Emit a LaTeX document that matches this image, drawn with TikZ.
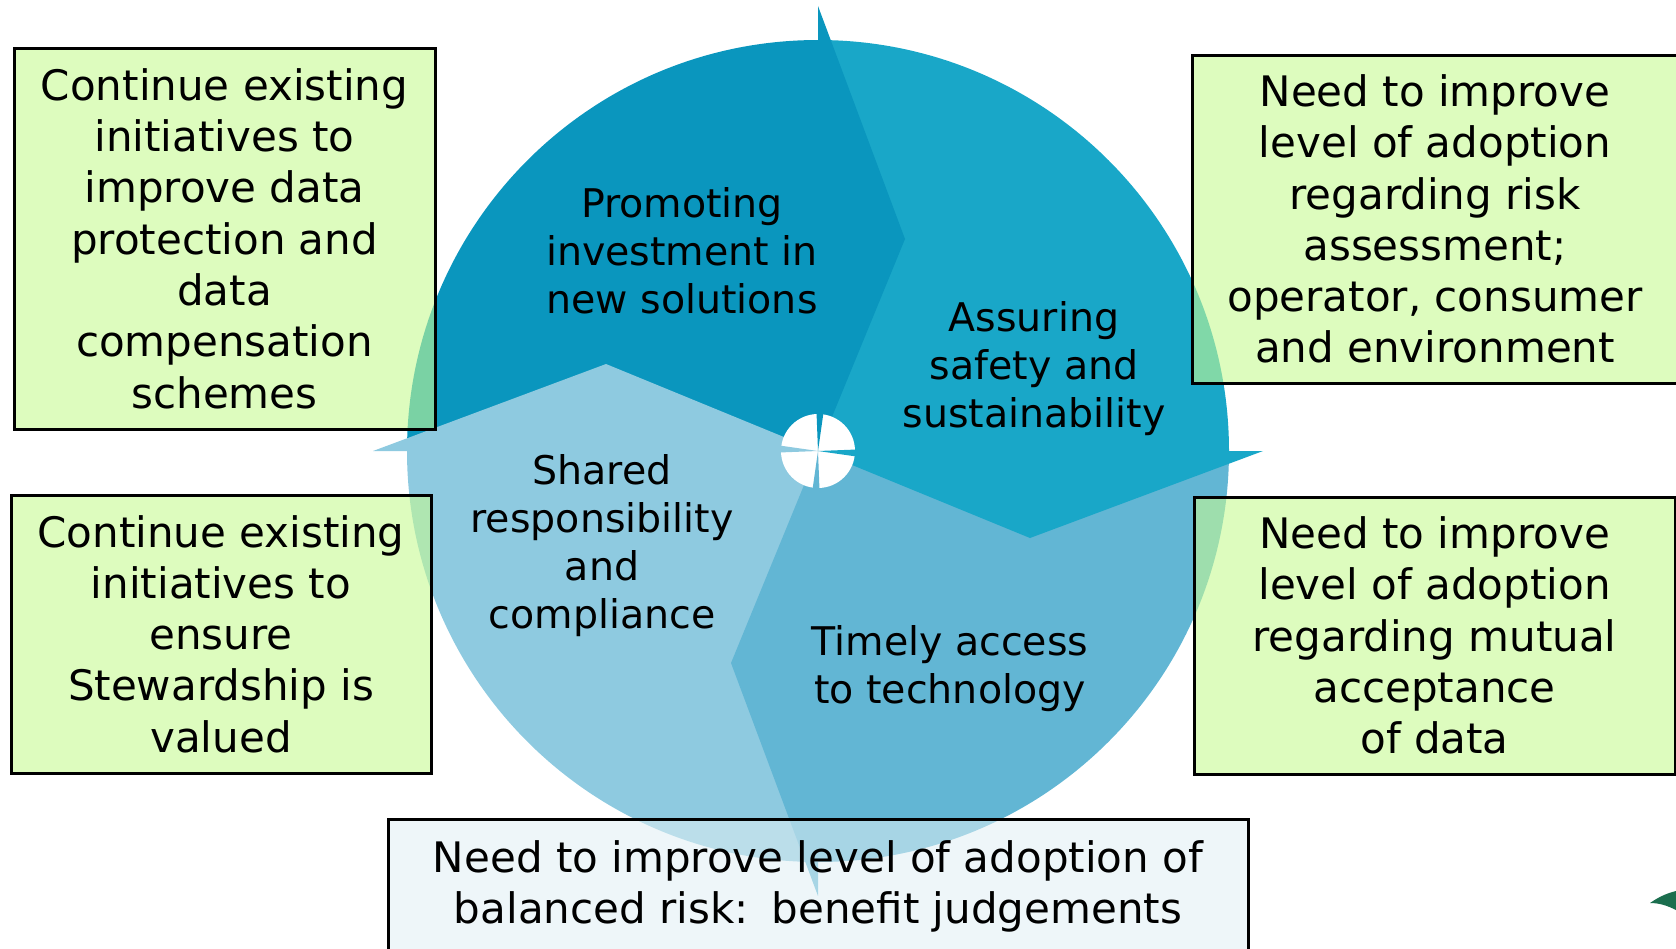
\documentclass[tikz,border=0pt]{standalone}
\usepackage{fontspec}
\setmainfont{DejaVu Sans}
\definecolor{secA}{HTML}{0A96BE}
\definecolor{secB}{HTML}{19A7C8}
\definecolor{secC}{HTML}{62B6D4}
\definecolor{secD}{HTML}{8ECAE0}
\definecolor{boxgreen}{HTML}{C6FA93}
\definecolor{boxpale}{HTML}{E0EFF4}
\definecolor{logogreen}{HTML}{1B6E4E}
\newcommand{\boxfont}{\fontsize{42}{51.3}\selectfont}
\newcommand{\circfont}{\fontsize{39.5}{48}\selectfont}
\tikzset{
  gbox/.style={draw=black, line width=3pt, fill=boxgreen, fill opacity=0.6, text opacity=1,
    align=center, inner sep=0pt, font=\boxfont},
  pbox/.style={draw=black, line width=3pt, fill=boxpale, fill opacity=0.55, inner sep=0pt},
  ctext/.style={align=center, inner sep=0pt, font=\circfont, text=black},
  btext/.style={align=center, inner sep=0pt, font=\boxfont, text=black}
}
\begin{document}
\begin{tikzpicture}[x=1pt,y=-1pt]
\useasboundingbox (0,0) rectangle (1676,948);
\coordinate (c) at (818,451);
% quadrants
\begin{scope}
  \clip (c) circle (411);
  \fill[secA] (c) rectangle (398,31);
  \fill[secB] (c) rectangle (1238,31);
  \fill[secC] (c) rectangle (1238,871);
  \fill[secD] (c) rectangle (398,871);
\end{scope}
% chevron bulges with spikes
\fill[secA] (c) -- (905,239) -- (818,6) -- cycle;
\fill[secB] (c) -- (1030,538) -- (1263,451) -- cycle;
\fill[secC] (c) -- (731,663) -- (818,896) -- cycle;
\fill[secD] (c) -- (606,364) -- (373,451) -- cycle;
% centre pinwheel
\fill[white] (c) circle (37);
\fill[secA] (c) -- (816.5,412) -- (823.5,412.5) -- cycle;
\fill[secB] (c) -- (857,449.5) -- (856.5,456.5) -- cycle;
\fill[secC] (c) -- (819.5,490) -- (812.5,489.5) -- cycle;
\fill[secD] (c) -- (779,452.5) -- (779.5,445.5) -- cycle;
% circle texts
\node[ctext] (promo) at (682,251) {Promoting\\investment in\\new solutions};
\node[ctext] (assure) at (1034,369) {Assuring\\safety and\\sustainability};
\node[ctext] (shared) at (602,545.5) {Shared\\responsibility\\and\\compliance};
\node[ctext] (timely) at (950,668.5) {Timely access\\to technology};
% boxes
\node[gbox, minimum width=421, minimum height=381] (tl) at (224.5,238.5)
  {Continue existing\\initiatives to\\improve data\\protection and\\data\\compensation\\schemes};
\node[gbox, minimum width=420, minimum height=278] (bl) at (221,634)
  {Continue existing\\initiatives to\\ensure\\Stewardship is\\valued};
\node[gbox, minimum width=486, minimum height=328] (tr) at (1435,219)
  {Need to improve\\level of adoption\\regarding risk\\assessment;\\operator, consumer\\and environment};
\node[gbox, minimum width=481, minimum height=277] (br) at (1434.5,635.5)
  {Need to improve\\level of adoption\\regarding mutual\\acceptance\\of data};
\node[pbox, minimum width=860, minimum height=140] (bottombox) at (818,889) {};
\node[btext] (bottomtext) at (818,886.5)
  {Need to improve level of adoption of\\balanced risk:\hspace{0.55em}benefit judgements};
% logo fragment
\fill[logogreen] (1650,903) .. controls (1660,896) and (1668,893) .. (1676,891)
  -- (1676,910) .. controls (1668,906) and (1660,903) .. (1650,903) -- cycle;
\end{tikzpicture}
\end{document}
